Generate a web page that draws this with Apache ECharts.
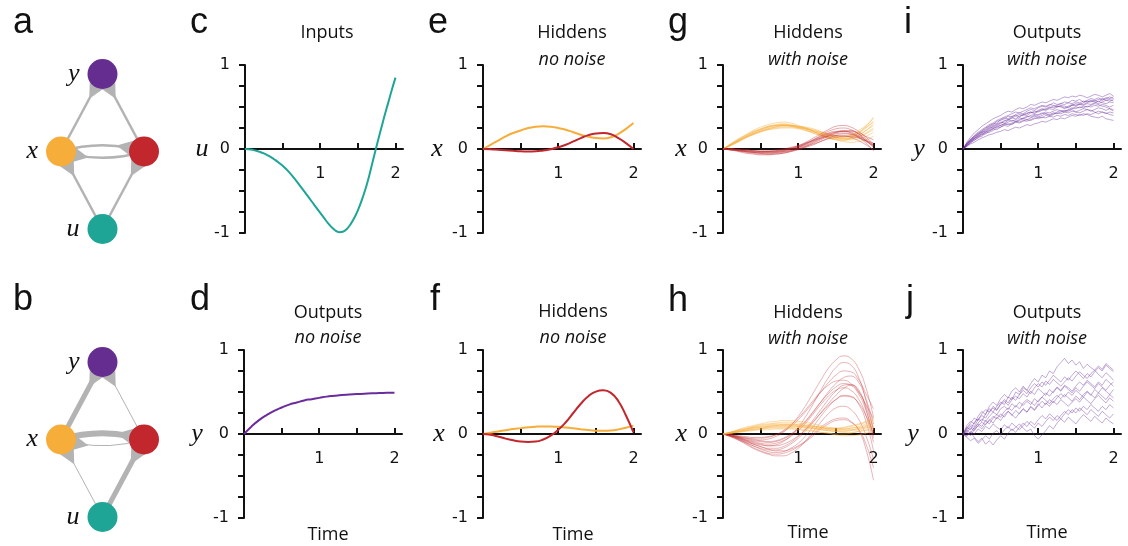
<!DOCTYPE html>
<html>
<head>
<meta charset="utf-8">
<script src="https://cdn.jsdelivr.net/npm/echarts@6/dist/echarts.min.js"></script>
<style>
  html, body { margin: 0; padding: 0; background: #fff; }
  #chart { width: 1128px; height: 546px; }
</style>
</head>
<body>
<div id="chart"></div>
<script>
// time samples
const time21 = [0,0.1,0.2,0.3,0.4,0.5,0.6,0.7,0.8,0.9,1,1.1,1.2,1.3,1.4,1.5,1.6,1.7,1.8,1.9,2];
const time41 = [0,0.05,0.1,0.15,0.2,0.25,0.3,0.35,0.4,0.45,0.5,0.55,0.6,0.65,0.7,0.75,0.8,0.85,0.9,0.95,1,
                1.05,1.1,1.15,1.2,1.25,1.3,1.35,1.4,1.45,1.5,1.55,1.6,1.65,1.7,1.75,1.8,1.85,1.9,1.95,2];

// c: input u (sampled every 0.05)
const inputU = [0,-0.003,-0.01,-0.02,-0.035,-0.053,-0.075,-0.1,-0.13,-0.163,-0.2,-0.242,-0.29,-0.343,-0.4,-0.46,-0.52,-0.58,-0.64,-0.7,-0.76,
                -0.82,-0.88,-0.93,-0.97,-0.99,-0.985,-0.955,-0.9,-0.825,-0.73,-0.615,-0.48,-0.32,-0.14,0.04,0.21,0.38,0.54,0.7,0.85];
// d: output y, no noise
const outputY = [0,0.09,0.165,0.225,0.275,0.315,0.35,0.375,0.40,0.415,0.43,0.445,0.455,0.465,0.47,0.475,0.48,0.485,0.487,0.49,0.49];
// e: hiddens, no noise (network a)
const hidEOrange = [0,0.05,0.10,0.15,0.19,0.22,0.25,0.265,0.27,0.265,0.25,0.23,0.20,0.17,0.145,0.13,0.125,0.14,0.18,0.24,0.31];
const hidERed = [0,-0.002,-0.008,-0.015,-0.022,-0.028,-0.03,-0.028,-0.018,-0.002,0.02,0.05,0.09,0.13,0.165,0.185,0.19,0.175,0.13,0.07,0.0];
// f: hiddens, no noise (network b)
const hidFOrange = [0,0.015,0.03,0.045,0.06,0.07,0.08,0.087,0.09,0.09,0.085,0.078,0.068,0.057,0.047,0.04,0.038,0.042,0.055,0.075,0.1];
const hidFRed = [0,-0.01,-0.03,-0.055,-0.075,-0.09,-0.095,-0.09,-0.065,-0.02,0.05,0.14,0.25,0.36,0.45,0.505,0.52,0.49,0.39,0.22,0.02];

// g: hiddens with noise (network a)
const noisyGOrange = [
  [0,0.05,0.11,0.16,0.20,0.24,0.27,0.29,0.30,0.29,0.27,0.25,0.22,0.19,0.16,0.15,0.15,0.17,0.22,0.28,0.36],
  [0,0.04,0.09,0.13,0.17,0.20,0.23,0.24,0.25,0.25,0.24,0.22,0.20,0.18,0.16,0.14,0.13,0.13,0.15,0.19,0.25],
  [0,0.06,0.12,0.17,0.22,0.26,0.29,0.31,0.32,0.31,0.28,0.25,0.21,0.17,0.13,0.11,0.10,0.12,0.16,0.22,0.30],
  [0,0.05,0.10,0.14,0.18,0.21,0.23,0.25,0.26,0.26,0.25,0.24,0.22,0.20,0.18,0.16,0.15,0.16,0.19,0.25,0.33],
  [0,0.04,0.08,0.13,0.17,0.21,0.24,0.26,0.28,0.28,0.27,0.25,0.23,0.20,0.17,0.14,0.12,0.11,0.12,0.15,0.20],
  [0,0.06,0.11,0.16,0.21,0.24,0.27,0.28,0.29,0.28,0.26,0.23,0.19,0.16,0.13,0.12,0.12,0.14,0.19,0.27,0.38],
  [0,0.05,0.09,0.14,0.18,0.21,0.24,0.26,0.27,0.27,0.26,0.24,0.21,0.18,0.14,0.11,0.09,0.08,0.09,0.11,0.15],
  [0,0.05,0.10,0.15,0.19,0.23,0.26,0.28,0.28,0.27,0.25,0.22,0.19,0.16,0.14,0.13,0.14,0.16,0.20,0.26,0.32],
  [0,0.04,0.09,0.14,0.18,0.22,0.25,0.27,0.28,0.28,0.27,0.26,0.24,0.21,0.18,0.15,0.13,0.13,0.14,0.18,0.23],
  [0,0.05,0.10,0.15,0.20,0.23,0.26,0.28,0.29,0.28,0.26,0.24,0.21,0.17,0.14,0.12,0.11,0.13,0.17,0.22,0.28]
];
const noisyGRed = [
  [0,-0.01,-0.02,-0.03,-0.04,-0.05,-0.05,-0.04,-0.03,-0.01,0.02,0.06,0.11,0.16,0.21,0.24,0.25,0.23,0.18,0.10,0.02],
  [0,0,-0.01,-0.01,-0.02,-0.02,-0.02,-0.01,0,0.02,0.04,0.07,0.10,0.13,0.15,0.16,0.16,0.14,0.10,0.05,-0.01],
  [0,-0.01,-0.03,-0.05,-0.06,-0.07,-0.07,-0.06,-0.05,-0.03,0,0.03,0.07,0.11,0.15,0.18,0.19,0.18,0.15,0.10,0.05],
  [0,0,-0.01,-0.02,-0.02,-0.03,-0.03,-0.02,-0.01,0.01,0.04,0.08,0.13,0.18,0.23,0.27,0.28,0.26,0.21,0.14,0.06],
  [0,-0.01,-0.02,-0.03,-0.04,-0.04,-0.04,-0.04,-0.03,-0.02,0,0.03,0.06,0.09,0.12,0.14,0.15,0.15,0.13,0.10,0.07],
  [0,0,-0.01,-0.02,-0.03,-0.04,-0.04,-0.03,-0.02,0,0.03,0.07,0.11,0.15,0.19,0.21,0.21,0.19,0.14,0.07,-0.02],
  [0,-0.01,-0.02,-0.04,-0.05,-0.06,-0.06,-0.05,-0.04,-0.02,0.01,0.04,0.08,0.12,0.16,0.19,0.21,0.21,0.19,0.15,0.11],
  [0,0,-0.01,-0.01,-0.02,-0.03,-0.03,-0.02,-0.01,0.01,0.03,0.06,0.10,0.14,0.18,0.20,0.21,0.20,0.16,0.10,0.03],
  [0,-0.01,-0.02,-0.03,-0.04,-0.05,-0.06,-0.06,-0.05,-0.03,-0.01,0.02,0.05,0.09,0.13,0.16,0.18,0.17,0.14,0.09,0.04],
  [0,0,-0.01,-0.02,-0.03,-0.03,-0.03,-0.03,-0.02,0,0.02,0.05,0.09,0.13,0.17,0.20,0.22,0.22,0.18,0.12,0.04]
];

// h: hiddens with noise (network b)
const noisyHRed = [
  [0,-0.02,-0.05,-0.08,-0.11,-0.13,-0.14,-0.13,-0.09,-0.02,0.08,0.21,0.36,0.52,0.67,0.79,0.85,0.82,0.68,0.40,0.05],
  [0,-0.03,-0.07,-0.12,-0.17,-0.21,-0.24,-0.26,-0.26,-0.23,-0.17,-0.08,0.03,0.14,0.24,0.31,0.33,0.29,0.18,-0.02,-0.30],
  [0,-0.01,-0.03,-0.05,-0.06,-0.07,-0.06,-0.03,0.02,0.10,0.21,0.34,0.49,0.64,0.78,0.88,0.93,0.90,0.78,0.55,0.20],
  [0,-0.02,-0.04,-0.07,-0.09,-0.11,-0.12,-0.11,-0.08,-0.03,0.04,0.13,0.24,0.35,0.45,0.52,0.55,0.52,0.42,0.22,-0.10],
  [0,-0.02,-0.06,-0.10,-0.14,-0.18,-0.21,-0.22,-0.21,-0.17,-0.11,-0.02,0.09,0.21,0.32,0.41,0.46,0.45,0.36,0.15,-0.20],
  [0,-0.01,-0.03,-0.04,-0.05,-0.05,-0.04,-0.01,0.04,0.11,0.19,0.29,0.40,0.50,0.58,0.63,0.64,0.60,0.50,0.35,0.18],
  [0,-0.03,-0.06,-0.10,-0.14,-0.17,-0.19,-0.19,-0.17,-0.12,-0.05,0.04,0.14,0.25,0.36,0.46,0.54,0.58,0.53,0.30,-0.05],
  [0,-0.02,-0.05,-0.08,-0.12,-0.15,-0.18,-0.20,-0.20,-0.18,-0.14,-0.08,0,0.08,0.14,0.18,0.19,0.15,0.05,-0.18,-0.55],
  [0,-0.01,-0.02,-0.03,-0.04,-0.04,-0.03,-0.01,0.03,0.09,0.17,0.27,0.38,0.50,0.61,0.70,0.75,0.74,0.65,0.48,0.30],
  [0,-0.02,-0.05,-0.09,-0.12,-0.15,-0.17,-0.17,-0.15,-0.10,-0.03,0.06,0.17,0.29,0.41,0.51,0.58,0.59,0.51,0.33,0.05],
  [0,-0.02,-0.04,-0.06,-0.08,-0.09,-0.10,-0.09,-0.06,-0.01,0.06,0.15,0.26,0.38,0.50,0.60,0.67,0.69,0.62,0.42,0.12],
  [0,-0.03,-0.07,-0.11,-0.16,-0.20,-0.23,-0.24,-0.23,-0.20,-0.15,-0.09,-0.02,0.06,0.12,0.16,0.17,0.14,0.06,-0.12,-0.40],
  [0,-0.01,-0.03,-0.05,-0.07,-0.08,-0.09,-0.08,-0.05,0,0.07,0.16,0.27,0.38,0.48,0.56,0.60,0.58,0.48,0.28,-0.02],
  [0,-0.02,-0.04,-0.07,-0.10,-0.12,-0.14,-0.14,-0.12,-0.08,-0.02,0.06,0.15,0.25,0.34,0.41,0.45,0.44,0.37,0.22,0.00]
];
const noisyHOrange = [
  [0,0.02,0.05,0.07,0.09,0.11,0.12,0.13,0.14,0.14,0.13,0.12,0.10,0.08,0.07,0.06,0.06,0.07,0.09,0.12,0.16],
  [0,0.01,0.02,0.03,0.04,0.05,0.05,0.06,0.06,0.06,0.05,0.04,0.03,0.02,0.01,0.00,0,0.01,0.03,0.05,0.07],
  [0,0.02,0.04,0.06,0.08,0.10,0.11,0.12,0.12,0.12,0.11,0.10,0.09,0.08,0.07,0.07,0.08,0.10,0.12,0.15,0.19],
  [0,0.01,0.03,0.04,0.05,0.06,0.07,0.07,0.07,0.07,0.06,0.05,0.04,0.02,0.01,-0.01,-0.02,-0.02,-0.01,0.01,0.03],
  [0,0.02,0.04,0.06,0.08,0.09,0.10,0.11,0.11,0.11,0.11,0.10,0.09,0.08,0.06,0.05,0.05,0.05,0.07,0.09,0.12],
  [0,0.01,0.03,0.05,0.07,0.08,0.09,0.10,0.10,0.10,0.09,0.08,0.07,0.06,0.05,0.04,0.04,0.05,0.06,0.08,0.10],
  [0,0.02,0.05,0.08,0.10,0.12,0.14,0.15,0.16,0.16,0.15,0.14,0.12,0.10,0.08,0.07,0.06,0.07,0.08,0.10,0.13],
  [0,0.01,0.02,0.04,0.05,0.06,0.07,0.08,0.08,0.08,0.08,0.07,0.06,0.05,0.04,0.03,0.02,0.02,0.03,0.04,0.05],
  [0,0.02,0.03,0.05,0.07,0.08,0.09,0.10,0.11,0.11,0.10,0.09,0.08,0.07,0.06,0.06,0.07,0.09,0.11,0.14,0.17],
  [0,0.01,0.03,0.04,0.06,0.07,0.08,0.09,0.09,0.09,0.09,0.08,0.07,0.05,0.04,0.03,0.03,0.04,0.05,0.07,0.09]
];

// i: outputs with noise (network a)
const noisyIPurple = [
  [0,0.07,0.12,0.15,0.19,0.21,0.25,0.27,0.29,0.33,0.34,0.36,0.39,0.38,0.41,0.43,0.42,0.45,0.47,0.46,0.49,0.51,0.50,0.52,0.55,0.53,0.54,0.56,0.55,0.58,0.57,0.59,0.56,0.58,0.60,0.59,0.61,0.58,0.60,0.62,0.60],
  [0,0.04,0.07,0.11,0.13,0.17,0.18,0.21,0.24,0.23,0.26,0.28,0.27,0.30,0.32,0.31,0.33,0.35,0.34,0.36,0.38,0.37,0.40,0.39,0.41,0.43,0.42,0.44,0.43,0.45,0.44,0.46,0.48,0.47,0.45,0.47,0.49,0.48,0.46,0.48,0.47],
  [0,0.06,0.10,0.15,0.17,0.22,0.24,0.28,0.30,0.31,0.35,0.37,0.36,0.39,0.40,0.38,0.41,0.43,0.44,0.42,0.45,0.47,0.46,0.48,0.47,0.50,0.52,0.51,0.49,0.52,0.54,0.53,0.55,0.57,0.56,0.58,0.56,0.59,0.61,0.60,0.62],
  [0,0.03,0.08,0.10,0.14,0.15,0.19,0.20,0.22,0.25,0.26,0.29,0.30,0.29,0.32,0.34,0.36,0.35,0.37,0.39,0.38,0.40,0.42,0.41,0.43,0.42,0.44,0.46,0.45,0.47,0.44,0.43,0.45,0.47,0.46,0.44,0.42,0.44,0.43,0.41,0.40],
  [0,0.05,0.11,0.14,0.18,0.20,0.23,0.26,0.28,0.30,0.32,0.31,0.34,0.37,0.36,0.39,0.41,0.40,0.43,0.45,0.44,0.46,0.48,0.50,0.49,0.51,0.50,0.48,0.50,0.52,0.51,0.53,0.52,0.54,0.53,0.55,0.57,0.55,0.54,0.56,0.55],
  [0,0.05,0.09,0.12,0.16,0.18,0.20,0.23,0.25,0.26,0.28,0.30,0.32,0.34,0.33,0.35,0.37,0.39,0.38,0.40,0.41,0.43,0.42,0.40,0.42,0.44,0.46,0.45,0.47,0.49,0.48,0.50,0.49,0.51,0.50,0.52,0.51,0.53,0.52,0.50,0.52],
  [0,0.06,0.10,0.13,0.17,0.20,0.21,0.24,0.27,0.29,0.31,0.34,0.35,0.33,0.35,0.37,0.36,0.38,0.40,0.41,0.40,0.42,0.44,0.43,0.45,0.47,0.45,0.44,0.46,0.48,0.50,0.49,0.51,0.50,0.52,0.54,0.53,0.51,0.50,0.48,0.45],
  [0,0.04,0.08,0.13,0.15,0.19,0.22,0.25,0.26,0.28,0.30,0.33,0.35,0.37,0.39,0.41,0.40,0.42,0.44,0.43,0.46,0.48,0.47,0.49,0.51,0.52,0.54,0.53,0.55,0.54,0.56,0.55,0.57,0.56,0.58,0.57,0.59,0.60,0.58,0.59,0.57],
  [0,0.05,0.09,0.12,0.15,0.17,0.20,0.22,0.24,0.27,0.28,0.30,0.29,0.31,0.33,0.32,0.34,0.33,0.35,0.37,0.36,0.38,0.37,0.39,0.38,0.40,0.39,0.41,0.40,0.42,0.41,0.40,0.42,0.41,0.39,0.38,0.37,0.39,0.36,0.35,0.34],
  [0,0.07,0.11,0.16,0.20,0.23,0.26,0.29,0.31,0.34,0.36,0.38,0.40,0.42,0.44,0.43,0.45,0.47,0.49,0.48,0.50,0.52,0.51,0.53,0.52,0.50,0.51,0.49,0.51,0.53,0.52,0.54,0.53,0.55,0.57,0.56,0.54,0.56,0.58,0.57,0.59],
  [0,0.03,0.06,0.08,0.11,0.13,0.15,0.17,0.18,0.20,0.21,0.23,0.22,0.24,0.26,0.25,0.27,0.29,0.28,0.30,0.31,0.33,0.32,0.34,0.36,0.35,0.37,0.36,0.38,0.40,0.39,0.41,0.40,0.42,0.41,0.43,0.45,0.44,0.42,0.44,0.43],
  [0,0.08,0.14,0.19,0.23,0.27,0.30,0.33,0.36,0.38,0.40,0.43,0.45,0.44,0.47,0.49,0.48,0.50,0.53,0.52,0.54,0.56,0.55,0.57,0.59,0.58,0.60,0.62,0.61,0.63,0.62,0.64,0.63,0.61,0.63,0.65,0.64,0.62,0.64,0.66,0.63]
];

// j: outputs with noise (network b)
const noisyJPurple = [
  [0,0.08,0.05,0.14,0.18,0.15,0.24,0.30,0.26,0.33,0.38,0.35,0.44,0.41,0.50,0.47,0.55,0.52,0.60,0.66,0.62,0.70,0.67,0.75,0.72,0.80,0.85,0.90,0.84,0.88,0.82,0.86,0.78,0.83,0.79,0.76,0.81,0.77,0.84,0.80,0.76],
  [0,-0.04,-0.08,-0.05,-0.11,-0.07,-0.02,-0.06,0.01,0.04,-0.01,0.05,0.09,0.04,0.08,0.12,0.07,0.03,0.06,-0.02,-0.06,-0.01,0.04,0.10,0.06,0.13,0.18,0.14,0.20,0.16,0.12,0.18,0.23,0.19,0.15,0.21,0.17,0.13,0.19,0.15,0.12],
  [0,0.06,0.11,0.09,0.17,0.22,0.19,0.26,0.31,0.28,0.35,0.39,0.34,0.41,0.45,0.42,0.48,0.44,0.51,0.47,0.54,0.50,0.46,0.53,0.49,0.56,0.52,0.58,0.55,0.51,0.57,0.62,0.58,0.64,0.60,0.56,0.62,0.58,0.65,0.61,0.57],
  [0,0.03,-0.02,0.05,0.10,0.06,0.12,0.17,0.13,0.20,0.16,0.23,0.27,0.22,0.28,0.24,0.30,0.26,0.33,0.29,0.36,0.31,0.37,0.33,0.39,0.35,0.41,0.37,0.33,0.38,0.42,0.38,0.44,0.40,0.36,0.42,0.46,0.41,0.37,0.43,0.39],
  [0,0.10,0.15,0.12,0.21,0.27,0.23,0.33,0.38,0.34,0.42,0.47,0.43,0.51,0.55,0.50,0.57,0.52,0.48,0.55,0.60,0.56,0.63,0.59,0.65,0.61,0.57,0.62,0.67,0.63,0.69,0.74,0.70,0.66,0.72,0.76,0.71,0.67,0.73,0.69,0.64],
  [0,0.02,0.07,0.04,0.10,0.14,0.11,0.16,0.21,0.18,0.24,0.20,0.27,0.23,0.19,0.25,0.30,0.26,0.32,0.28,0.34,0.39,0.35,0.41,0.37,0.43,0.48,0.44,0.50,0.46,0.52,0.48,0.44,0.50,0.46,0.53,0.49,0.55,0.51,0.47,0.53],
  [0,-0.03,0.02,-0.04,-0.09,-0.05,-0.12,-0.08,-0.13,-0.07,-0.02,-0.06,0.01,0.06,0.02,0.08,0.13,0.09,0.15,0.11,0.17,0.22,0.18,0.24,0.20,0.16,0.22,0.27,0.23,0.29,0.25,0.31,0.27,0.23,0.29,0.25,0.21,0.27,0.23,0.19,0.24],
  [0,0.07,0.13,0.19,0.16,0.24,0.29,0.26,0.33,0.29,0.36,0.41,0.37,0.44,0.40,0.47,0.52,0.48,0.55,0.60,0.56,0.62,0.58,0.64,0.70,0.66,0.62,0.68,0.64,0.70,0.75,0.71,0.66,0.72,0.68,0.74,0.79,0.75,0.82,0.78,0.74],
  [0,0.05,0.01,0.08,0.12,0.09,0.16,0.12,0.19,0.23,0.20,0.27,0.31,0.28,0.34,0.30,0.37,0.41,0.38,0.34,0.40,0.44,0.40,0.36,0.42,0.46,0.42,0.47,0.43,0.39,0.45,0.41,0.47,0.51,0.47,0.43,0.49,0.45,0.41,0.47,0.43],
  [0,0.04,0.09,0.06,0.13,0.18,0.15,0.21,0.26,0.23,0.30,0.33,0.29,0.36,0.32,0.38,0.34,0.39,0.35,0.42,0.38,0.44,0.49,0.45,0.51,0.55,0.51,0.57,0.53,0.49,0.55,0.51,0.57,0.62,0.58,0.54,0.60,0.56,0.52,0.58,0.62],
  [0,-0.02,0.03,0.00,0.06,0.03,0.09,0.06,0.12,0.08,0.05,0.11,0.07,0.13,0.09,0.05,0.10,0.15,0.11,0.07,0.13,0.09,0.15,0.20,0.16,0.22,0.18,0.24,0.29,0.25,0.31,0.27,0.33,0.29,0.35,0.31,0.27,0.33,0.29,0.35,0.31]
];

// network diagrams: edge weights (line widths) for a and b
const netLinks = [['x','y'],['red','y'],['x','red'],['red','x'],['u','x'],['u','red']];
const netAWidths = [2.5,2.5,2.5,2.5,2.5,2.5];
const netBWidths = [5,1,6,1,1,5];

// tick labels
const xTickLabels = [1, 2];
const yTickLabels = [-1, 0, 1];

const TEAL = '#1ea596', PURPLE = '#662d91', ORANGE = '#f6ad3a', RED = '#c1272d', EDGE = '#b3b3b3';
const LINE_PURPLE = '#6a2c9c';
const INK = '#111';

// layout of the 8 line panels: c d e f g h i j
const panels = [
  {left: 245, top: 65,  yName: 'u', gap: 43},
  {left: 244, top: 350, yName: 'y', gap: 47},
  {left: 483, top: 65,  yName: 'x', gap: 46},
  {left: 483, top: 350, yName: 'x', gap: 44},
  {left: 723, top: 65,  yName: 'x', gap: 42},
  {left: 723, top: 350, yName: 'x', gap: 41},
  {left: 963, top: 65,  yName: 'y', gap: 44},
  {left: 963, top: 350, yName: 'y', gap: 50}
];
const GRID_H = 168;

const grids = [], xAxes = [], yAxes = [], series = [];
panels.forEach((p, i) => {
  grids.push({left: p.left, top: p.top, width: 158, height: GRID_H, outerBoundsMode: 'none', containLabel: false});
  // x axis sits at y = 0 (middle of the grid)
  xAxes.push({
    gridIndex: i, type: 'value', min: 0, max: 2.1, position: 'bottom', offset: -GRID_H / 2,
    axisLine: {onZero: false, lineStyle: {color: INK, width: 2}},
    axisTick: {inside: true, length: 6, customValues: [0.5, 1, 1.5, 2], lineStyle: {color: INK, width: 2}},
    axisLabel: {customValues: xTickLabels, margin: 17, fontSize: 16, fontFamily: 'DejaVu Sans', color: INK},
    splitLine: {show: false}
  });
  yAxes.push({
    gridIndex: i, type: 'value', min: -1, max: 1, interval: 0.25,
    axisLine: {onZero: false, lineStyle: {color: INK, width: 2}},
    axisTick: {length: 6, lineStyle: {color: INK, width: 2}},
    axisLabel: {customValues: yTickLabels, margin: 15, fontSize: 16, fontFamily: 'DejaVu Sans', color: INK},
    splitLine: {show: false},
    name: p.yName, nameLocation: 'middle', nameGap: p.gap, nameRotate: 0,
    nameTextStyle: {fontFamily: 'Liberation Serif', fontStyle: 'italic', fontSize: 26, color: INK, align: 'center', verticalAlign: 'middle'}
  });
});

// network grids (a, b)
[{top: 74}, {top: 362}].forEach((p) => {
  grids.push({left: 61, top: p.top, width: 83, height: 155, outerBoundsMode: 'none', containLabel: false});
  const gi = grids.length - 1;
  xAxes.push({gridIndex: gi, type: 'value', min: -1, max: 1, show: false});
  yAxes.push({gridIndex: gi, type: 'value', min: -1, max: 1, show: false});
});

function pairs(t, v) { return v.map((y, k) => [t[k], y]); }

function addLine(gi, t, v, color, width, opacity, smooth) {
  series.push({
    type: 'line', xAxisIndex: gi, yAxisIndex: gi, data: pairs(t, v),
    showSymbol: false, symbol: 'none', smooth: smooth, silent: true,
    lineStyle: {color: color, width: width, opacity: opacity}
  });
}

addLine(0, time41, inputU, TEAL, 2, 1, 0.4);
addLine(1, time21, outputY, LINE_PURPLE, 2, 1, true);
addLine(2, time21, hidEOrange, ORANGE, 2, 1, true);
addLine(2, time21, hidERed, RED, 2, 1, true);
addLine(3, time21, hidFOrange, ORANGE, 2, 1, true);
addLine(3, time21, hidFRed, RED, 2, 1, true);
noisyGOrange.forEach(v => addLine(4, time21, v, ORANGE, 1, 0.45, true));
noisyGRed.forEach(v => addLine(4, time21, v, RED, 1, 0.4, true));
noisyHRed.forEach(v => addLine(5, time21, v, RED, 1, 0.35, true));
noisyHOrange.forEach(v => addLine(5, time21, v, ORANGE, 1, 0.45, true));
noisyIPurple.forEach(v => addLine(6, time41, v, LINE_PURPLE, 1, 0.42, false));
noisyJPurple.forEach(v => addLine(7, time41, v, LINE_PURPLE, 1, 0.4, false));

// network graphs
const wedge = 'path://M-6,-10 L6,-10 L0,10 Z';
function addNet(gi, widths) {
  series.push({
    type: 'graph', coordinateSystem: 'cartesian2d', xAxisIndex: gi, yAxisIndex: gi,
    symbolSize: 30, silent: true,
    edgeSymbol: ['none', wedge],
    data: [
      {name: 'y', value: [0, 1], itemStyle: {color: PURPLE}},
      {name: 'x', value: [-1, 0], itemStyle: {color: ORANGE}},
      {name: 'red', value: [1, 0], itemStyle: {color: RED}, label: {show: false}},
      {name: 'u', value: [0, -1], itemStyle: {color: TEAL}}
    ],
    links: netLinks.map((l, k) => ({
      source: l[0], target: l[1],
      symbolSize: [Math.max(5, widths[k] * 2.6), 26],
      lineStyle: {width: widths[k], curveness: (l[0] === 'x' && l[1] === 'red') || (l[0] === 'red' && l[1] === 'x') ? 0.15 : 0}
    })),
    label: {show: true, position: 'left', distance: 8, formatter: '{b}',
            fontFamily: 'Liberation Serif', fontStyle: 'italic', fontSize: 26, color: INK},
    lineStyle: {color: EDGE, opacity: 1},
    itemStyle: {opacity: 1}
  });
}
addNet(8, netAWidths);
addNet(9, netBWidths);

// texts
function txt(s, x, y, opt) {
  return {type: 'text', x: x, y: y, silent: true,
    style: Object.assign({text: s, fill: INK, textAlign: 'center', textVerticalAlign: 'middle',
      font: (opt && opt.font) || '18px "Open Sans"'}, opt && opt.style)};
}
const LETTER = '36px "Liberation Sans"';
const ITAL = 'italic 18px "Open Sans"';
const L = {font: LETTER, style: {textAlign: 'left'}};
const graphics = [
  txt('a', 13, 23, L), txt('c', 190, 23, L), txt('e', 428, 23, L), txt('g', 668, 23, L), txt('i', 904, 23, L),
  txt('b', 13, 300, L), txt('d', 190, 300, L), txt('f', 430, 300, L), txt('h', 668, 301, L), txt('j', 906, 301, L),
  txt('Inputs', 327, 33),
  txt('Hiddens', 572, 33), txt('no noise', 572, 60, {font: ITAL}),
  txt('Hiddens', 808, 33), txt('with noise', 808, 60, {font: ITAL}),
  txt('Outputs', 1047, 33), txt('with noise', 1047, 60, {font: ITAL}),
  txt('Outputs', 328, 313), txt('no noise', 328, 338, {font: ITAL}),
  txt('Hiddens', 573, 312), txt('no noise', 573, 338, {font: ITAL}),
  txt('Hiddens', 808, 313), txt('with noise', 808, 339, {font: ITAL}),
  txt('Outputs', 1047, 313), txt('with noise', 1047, 339, {font: ITAL}),
  txt('Time', 328, 535), txt('Time', 573, 535), txt('Time', 808, 533), txt('Time', 1047, 533)
];

const chart = echarts.init(document.getElementById('chart'));
chart.setOption({
  animation: false,
  backgroundColor: '#fff',
  grid: grids,
  xAxis: xAxes,
  yAxis: yAxes,
  series: series,
  graphic: graphics
});
window.addEventListener('resize', () => chart.resize());
</script>
</body>
</html>
